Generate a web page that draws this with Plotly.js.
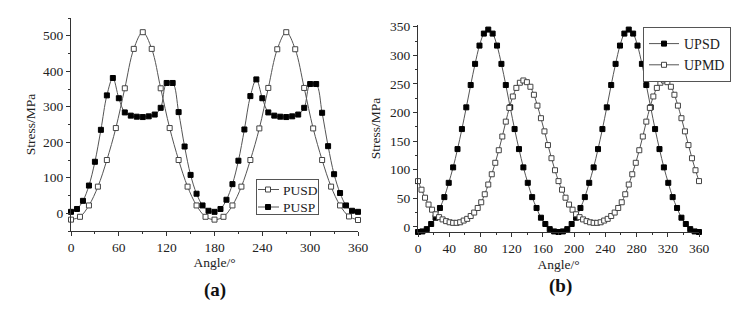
<!DOCTYPE html>
<html>
<head>
<meta charset="utf-8">
<script src="https://cdn.plot.ly/plotly-3.0.1.min.js"></script>
<style>
  html, body { margin: 0; padding: 0; background: #fff; }
  #chart { width: 738px; height: 315px; }
</style>
</head>
<body>
<div id="chart"></div>
<script>
// ---------- Panel (a) data ----------
const anglePUSD = [0, 11.25, 22.5, 33.75, 45, 56.25, 67.5, 78.75, 90, 101.25, 112.5, 123.75, 135, 146.25, 157.5, 168.75, 180,
  191.25, 202.5, 213.75, 225, 236.25, 247.5, 258.75, 270, 281.25, 292.5, 303.75, 315, 326.25, 337.5, 348.75, 360];
const stressPUSD = [-18, -10, 22, 75, 150, 240, 352, 463, 510, 463, 352, 240, 150, 75, 22, -10, -18,
  -10, 22, 75, 150, 239, 353, 462, 510, 462, 353, 239, 150, 75, 22, -9, -19];

const anglePUSP = [0, 7.5, 15, 22.5, 30, 37.5, 45, 52.5, 60, 67.5, 75, 82.5, 90, 97.5, 105, 112.5, 120, 127.5, 135, 142.5, 150, 157.5, 165, 172.5, 180,
  187.5, 195, 202.5, 210, 217.5, 225, 232.5, 240, 247.5, 255, 262.5, 270, 277.5, 285, 292.5, 300, 307.5, 315, 322.5, 330, 337.5, 345, 352.5, 360];
const stressPUSP = [4, 12, 35, 78, 145, 235, 332, 381, 324, 284, 275, 272, 271, 273, 278, 297, 367, 367, 285, 188, 108, 55, 22, 7, 4,
  12, 38, 82, 148, 236, 330, 377, 324, 284, 275, 272, 271, 273, 278, 297, 364, 364, 283, 189, 110, 57, 22, 7, 4];

// ---------- Panel (b) data ----------
const angleUPSD = [0, 5.625, 11.25, 16.875, 22.5, 28.125, 33.75, 39.375, 45, 50.625, 56.25, 61.875, 67.5, 73.125, 78.75, 84.375, 90,
  95.625, 101.25, 106.875, 112.5, 118.125, 123.75, 129.375, 135, 140.625, 146.25, 151.875, 157.5, 163.125, 168.75, 174.375, 180,
  185.625, 191.25, 196.875, 202.5, 208.125, 213.75, 219.375, 225, 230.625, 236.25, 241.875, 247.5, 253.125, 258.75, 264.375, 270,
  275.625, 281.25, 286.875, 292.5, 298.125, 303.75, 309.375, 315, 320.625, 326.25, 331.875, 337.5, 343.125, 348.75, 354.375, 360];
const stressUPSD = [-9, -8, -4, 5, 16, 33, 52, 77, 104, 136, 171, 209, 248, 285, 317, 338, 345,
  338, 317, 285, 248, 209, 171, 136, 104, 77, 52, 33, 16, 5, -4, -8, -9,
  -8, -4, 5, 16, 33, 52, 77, 104, 136, 171, 209, 248, 285, 317, 338, 345,
  338, 317, 285, 248, 209, 171, 136, 104, 77, 52, 33, 16, 5, -4, -8, -9];

const angleUPMD = [0, 4.5, 9, 13.5, 18, 22.5, 27, 31.5, 36, 40.5, 45, 49.5, 54, 58.5, 63, 67.5, 72, 76.5, 81, 85.5, 90,
  94.5, 99, 103.5, 108, 112.5, 117, 121.5, 126, 130.5, 135, 139.5, 144, 148.5, 153, 157.5, 162, 166.5, 171, 175.5, 180,
  184.5, 189, 193.5, 198, 202.5, 207, 211.5, 216, 220.5, 225, 229.5, 234, 238.5, 243, 247.5, 252, 256.5, 261, 265.5, 270,
  274.5, 279, 283.5, 288, 292.5, 297, 301.5, 306, 310.5, 315, 319.5, 324, 328.5, 333, 337.5, 342, 346.5, 351, 355.5, 360];
const stressUPMD = [80, 65, 51, 39, 30, 22, 17, 13, 10, 8, 7, 7, 8, 11, 14, 19, 25, 33, 43, 57, 74,
  92, 112, 134, 158, 184, 208, 228, 243, 252, 256, 253, 245, 231, 212, 190, 167, 143, 120, 99, 80,
  65, 51, 39, 30, 22, 17, 13, 10, 8, 7, 7, 8, 11, 14, 19, 25, 33, 43, 57, 74,
  92, 112, 134, 158, 184, 208, 228, 243, 252, 256, 253, 245, 231, 212, 190, 167, 143, 120, 99, 80];

// ---------- Text ----------
const xTitle = 'Angle/°';
const yTitle = 'Stress/MPa';
const ticksA_x = [0, 60, 120, 180, 240, 300, 360];
const ticksA_y = [0, 100, 200, 300, 400, 500];
const ticksB_x = [0, 40, 80, 120, 160, 200, 240, 280, 320, 360];
const ticksB_y = [0, 50, 100, 150, 200, 250, 300, 350];

// ---------- Styles ----------
const FONT = 'Liberation Serif, Times New Roman, serif';
const LINE = {color: '#555', width: 1, shape: 'spline', smoothing: 1};
const openMarker = {symbol: 'square', size: 5, color: '#ffffff', line: {color: '#444', width: 1}};
const filledMarker = {symbol: 'square', size: 5, color: '#000000', line: {color: '#000', width: 1}};

const traces = [
  {x: anglePUSD, y: stressPUSD, name: 'PUSD', type: 'scatter', mode: 'lines+markers', line: LINE, marker: openMarker,
   xaxis: 'x', yaxis: 'y', legend: 'legend', cliponaxis: false},
  {x: anglePUSP, y: stressPUSP, name: 'PUSP', type: 'scatter', mode: 'lines+markers', line: LINE, marker: filledMarker,
   xaxis: 'x', yaxis: 'y', legend: 'legend', cliponaxis: false},
  {x: angleUPSD, y: stressUPSD, name: 'UPSD', type: 'scatter', mode: 'lines+markers', line: LINE, marker: filledMarker,
   xaxis: 'x2', yaxis: 'y2', legend: 'legend2', cliponaxis: false},
  {x: angleUPMD, y: stressUPMD, name: 'UPMD', type: 'scatter', mode: 'lines+markers', line: LINE, marker: openMarker,
   xaxis: 'x2', yaxis: 'y2', legend: 'legend2', cliponaxis: false}
];

function axisBase(extra) {
  return Object.assign({
    showline: true, linecolor: '#333', linewidth: 1,
    showgrid: false, zeroline: false,
    ticks: 'outside', ticklen: 4, tickwidth: 1, tickcolor: '#333',
    tickfont: {family: FONT, size: 13.5, color: '#222'},
    mirror: false, fixedrange: true
  }, extra);
}

const W = 738, H = 315;
const layout = {
  width: W, height: H, autosize: false,
  margin: {l: 0, r: 0, t: 0, b: 0},
  paper_bgcolor: '#ffffff', plot_bgcolor: '#ffffff',
  font: {family: FONT, color: '#222'},
  showlegend: true,
  xaxis: axisBase({
    domain: [71 / W, 358 / W], anchor: 'y', range: [0, 360],
    tickvals: ticksA_x, ticktext: ticksA_x.map(String),
    minor: {ticks: 'outside', ticklen: 2, dtick: 30, tickcolor: '#333'},
    title: {text: xTitle, font: {family: FONT, size: 13.5}, standoff: 3}
  }),
  yaxis: axisBase({
    domain: [(H - 231) / H, (H - 18) / H], anchor: 'x', range: [-50, 550],
    tickvals: ticksA_y, ticktext: ticksA_y.map(String),
    minor: {ticks: 'outside', ticklen: 2, dtick: 50, tickcolor: '#333'},
    title: {text: yTitle, font: {family: FONT, size: 13.5}, standoff: 4}
  }),
  xaxis2: axisBase({
    domain: [418 / W, 699 / W], anchor: 'y2', range: [0, 360],
    tickvals: ticksB_x, ticktext: ticksB_x.map(String),
    minor: {ticks: 'outside', ticklen: 2, dtick: 20, tickcolor: '#333'},
    title: {text: xTitle, font: {family: FONT, size: 13.5}, standoff: 4}
  }),
  yaxis2: axisBase({
    domain: [(H - 232) / H, (H - 25) / H], anchor: 'x2', range: [-9, 353],
    tickvals: ticksB_y, ticktext: ticksB_y.map(String),
    minor: {ticks: 'outside', ticklen: 2, dtick: 25, tickcolor: '#333'},
    title: {text: yTitle, font: {family: FONT, size: 13.5}, standoff: 6}
  }),
  legend: {
    x: 256 / W, xanchor: 'left', y: (H - 179) / H, yanchor: 'top',
    bgcolor: '#ffffff', bordercolor: '#555', borderwidth: 1,
    font: {family: FONT, size: 13.5, color: '#222'},
    tracegroupgap: 0, itemwidth: 30
  },
  legend2: {
    x: 643 / W, xanchor: 'left', y: (H - 27) / H, yanchor: 'top',
    bgcolor: '#ffffff', bordercolor: '#555', borderwidth: 1,
    font: {family: FONT, size: 14, color: '#222'},
    tracegroupgap: 0, itemwidth: 30
  },
  annotations: [
    {text: '<b>(a)</b>', x: 215 / W, y: (H - 290) / H, xref: 'paper', yref: 'paper',
     showarrow: false, font: {family: FONT, size: 19, color: '#111'}, xanchor: 'center', yanchor: 'middle'},
    {text: '<b>(b)</b>', x: 560 / W, y: (H - 286) / H, xref: 'paper', yref: 'paper',
     showarrow: false, font: {family: FONT, size: 19, color: '#111'}, xanchor: 'center', yanchor: 'middle'}
  ]
};

// Compact geometry for the panel (a) legend (sample line, marker, text offset, row pitch, box size).
const legendLook = {
  legend: {line: 'M1,0h21', marker: 11, textX: 26, first: 10, pitch: 17.5, width: 62, height: 35}
};

function tidyLegends(gd) {
  Object.keys(legendLook).forEach(function (id) {
    try {
      const p = legendLook[id];
      const g = gd.querySelector('g.' + id);
      if (!g) return;
      const bg = g.querySelector('rect.bg');
      if (!bg) return;
      const items = g.querySelectorAll('g.traces');
      if (!items.length || !g.querySelector('text.legendtext')) return;
      bg.setAttribute('width', String(p.width));
      bg.setAttribute('height', String(p.height));
      const bgBox = bg.getBoundingClientRect();
      items.forEach(function (tr, i) {
        tr.querySelectorAll('path.js-line').forEach(function (el) { el.setAttribute('d', p.line); });
        tr.querySelectorAll('path.scatterpts').forEach(function (el) {
          el.setAttribute('transform', 'translate(' + p.marker + ',0)');
        });
        const toggle = tr.querySelector('rect.legendtoggle');
        if (toggle) toggle.setAttribute('width', String(p.width - 2));
        const m = /translate\(\s*([-\d.e]+)[\s,]*([-\d.e]+)?\s*\)/.exec(tr.getAttribute('transform') || '');
        const tx = m ? parseFloat(m[1]) : 0;
        const ty = m && m[2] !== undefined ? parseFloat(m[2]) : 0;
        const t = tr.querySelector('text.legendtext');
        const ref = tr.querySelector('path.scatterpts') || t;
        if (ref) {
          const r = ref.getBoundingClientRect();
          if (r.height > 0) {
            const cy = r.top + r.height / 2 - bgBox.top;
            const want = p.first + i * p.pitch;
            if (Math.abs(want - cy) > 0.3) tr.setAttribute('transform', 'translate(' + tx + ',' + (ty + want - cy) + ')');
          }
        }
        if (t) t.setAttribute('x', String(p.textX));
      });
    } catch (e) { /* leave default legend */ }
  });
}

const gd = document.getElementById('chart');
Plotly.newPlot(gd, traces, layout, {displayModeBar: false, staticPlot: true}).then(function () {
  tidyLegends(gd);
  setTimeout(function () { tidyLegends(gd); }, 30);
  setTimeout(function () { tidyLegends(gd); }, 200);
});
</script>
</body>
</html>
